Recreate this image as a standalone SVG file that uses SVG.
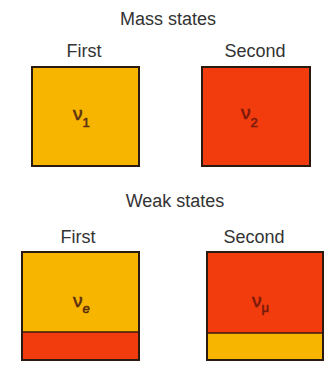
<svg xmlns="http://www.w3.org/2000/svg" width="329" height="366" viewBox="0 0 329 366">
<style>
.t{font-family:"Liberation Sans",Arial,sans-serif;font-size:18px;fill:#333;text-anchor:middle}
.y{fill:#F8B500}
.r{fill:#F23C0E}
.b{fill:none;stroke:#2a1a10;stroke-width:2}
.s{fill:none;stroke:#3a1a10;stroke-width:1.5}
.g{font-family:"Liberation Sans",Arial,sans-serif;font-size:19px;stroke-width:0.6}
.sub{font-size:13px}
.gy{fill:#5a3010;stroke:#5a3010}
.gr{fill:#7a1a0c;stroke:#7a1a0c}
</style>
<rect width="329" height="366" fill="#fff"/>
<text class="t" x="168" y="25">Mass states</text>
<text class="t" x="175" y="207">Weak states</text>
<g id="mass-first">
<text class="t" x="84" y="57">First</text>
<rect class="y" x="32" y="67" width="107" height="99"/>
<rect class="b" x="32" y="67" width="107" height="99"/>
<text class="g gy" x="73" y="120">ν<tspan class="sub" dy="7">1</tspan></text>
</g>
<g id="mass-second">
<text class="t" x="255" y="57">Second</text>
<rect class="r" x="202" y="67" width="108" height="99"/>
<rect class="b" x="202" y="67" width="108" height="99"/>
<text class="g gr" x="241" y="119">ν<tspan class="sub" dy="8">2</tspan></text>
</g>
<g id="weak-first">
<text class="t" x="78" y="243">First</text>
<rect class="y" x="22" y="252" width="117" height="80"/>
<rect class="r" x="22" y="332" width="117" height="28"/>
<line class="s" x1="22" y1="332" x2="139" y2="332"/>
<rect class="b" x="22" y="252" width="117" height="108"/>
<text class="g gy" x="73" y="307">ν<tspan class="sub" font-style="italic" dy="6">e</tspan></text>
</g>
<g id="weak-second">
<text class="t" x="254" y="243">Second</text>
<rect class="r" x="207" y="252" width="116" height="81"/>
<rect class="y" x="207" y="333" width="116" height="27"/>
<line class="s" x1="207" y1="333" x2="323" y2="333"/>
<rect class="b" x="207" y="252" width="116" height="108"/>
<text class="g gr" x="252" y="307">ν<tspan class="sub" dy="5">μ</tspan></text>
</g>
<g id="connectors"/>
</svg>
